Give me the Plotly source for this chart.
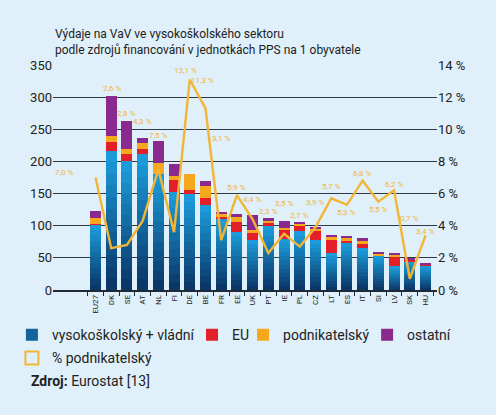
import plotly.graph_objects as go

categories = ["EU27", "DK", "SE", "AT", "NL", "FI", "DE", "BE", "FR", "EE", "UK",
              "PT", "IE", "PL", "CZ", "LT", "ES", "IT", "SI", "LV", "SK", "HU"]
univ_gov = [102, 217, 200, 211, 181, 153, 150, 133, 111, 91, 78,
            100, 79, 92, 78, 57, 73.5, 66, 53, 37, 44, 37.5]
eu = [1, 14, 11.5, 8, 0, 18, 6, 10, 3, 15, 10,
      5, 14, 8, 14, 21, 2.7, 5, 0.5, 14, 3, 1.5]
business = [8.5, 8, 7.5, 10, 17, 7, 24, 19, 4, 7, 5,
            3, 4, 2.8, 3.8, 5, 4.4, 5.5, 3.2, 3.5, 0.3, 1.4]
other = [12, 63, 44, 8, 34, 18, 0, 8, 4, 5, 23,
         4.5, 10, 2, 1.5, 2.5, 3.5, 4, 1.9, 3.5, 2, 1.1]
pct_business = [7.0, 2.6, 2.8, 4.3, 7.5, 3.6, 13.1, 11.3, 3.1, 5.9, 4.4,
                2.3, 3.5, 2.7, 3.9, 5.7, 5.3, 6.8, 5.5, 6.2, 0.7, 3.4]

# label styling (pixel offsets) and hidden labels
label_xshift = [-31, 1, 0, 0, 0, 0, -4, -3, 0, 0, 0,
                0, 0, 0, 0, 0, 0, 0, 0, 0, 0, 0]
label_yshift = [5, 7, 7, 16, 5, 0, 9, 28, 73, 8, 16,
                6, 18, 7, 25, 12, -8, 7, -8, 6, 40, 4]
hidden_labels = {"FI"}

BG = "#dff0fa"
DARK = "#1f2a36"
RED = "#e3202a"
ORANGE = "#f5a81c"
PURPLE = "#8a2a8e"
LINE_OR = "#f2b535"
FONT = "Roboto"
TXT = "#222222"

N_BANDS = 12
c0 = (10, 55, 104)    # bottom
c1 = (27, 155, 217)   # top


def band_color(k):
    t = k / (N_BANDS - 1)
    r, g, b = (round(c0[i] + (c1[i] - c0[i]) * t) for i in range(3))
    return f"rgb({r},{g},{b})"


fig = go.Figure()
for k in range(N_BANDS):
    fig.add_trace(go.Bar(
        x=categories, y=[v / N_BANDS for v in univ_gov],
        marker=dict(color=band_color(k), line=dict(width=0)),
        name="vysokoškolský + vládní",
        showlegend=(k == N_BANDS // 2 - 1), legend="legend",
        hoverinfo="skip"))

for name, vals, col, lg in [("EU", eu, RED, "legend3"),
                            ("podnikatelský", business, ORANGE, "legend4"),
                            ("ostatní", other, PURPLE, "legend5")]:
    fig.add_trace(go.Bar(x=categories, y=vals, name=name, legend=lg,
                         marker=dict(color=col, line=dict(width=0))))

fig.add_trace(go.Scatter(x=categories, y=pct_business, yaxis="y2", mode="lines",
                         line=dict(color=LINE_OR, width=2.4), showlegend=False))
fig.add_trace(go.Scatter(x=[None], y=[None], yaxis="y2", mode="markers",
                         name="% podnikatelský", legend="legend2",
                         marker=dict(symbol="square-open", size=13, color=LINE_OR,
                                     line=dict(width=2, color=LINE_OR))))

annotations = []
for i, c in enumerate(categories):
    if c in hidden_labels:
        continue
    total = univ_gov[i] + eu[i] + business[i] + other[i]
    anchor = max(pct_business[i], total * 14 / 350)
    annotations.append(dict(
        x=c, y=anchor, xref="x", yref="y2", showarrow=False,
        text=f"{pct_business[i]:.1f}".replace(".", ",") + " %",
        font=dict(family=FONT, size=8, color=LINE_OR),
        xshift=label_xshift[i], yshift=label_yshift[i]))

annotations.append(dict(
    x=0, y=1.18, xref="paper", yref="paper", xanchor="left", yanchor="top",
    align="left", showarrow=False,
    text="Výdaje na VaV ve vysokoškolského sektoru<br>podle zdrojů financování v jednotkách PPS na 1 obyvatele",
    font=dict(family=FONT, size=12, color=TXT)))
annotations.append(dict(
    x=-0.062, y=-0.404, xref="paper", yref="paper", xanchor="left", yanchor="middle",
    showarrow=False, text="<b>Zdroj:</b> Eurostat [13]",
    font=dict(family=FONT, size=14, color=TXT)))


def leg(x, y):
    return dict(orientation="h", x=x, y=y, xanchor="left", yanchor="top",
                bgcolor="rgba(0,0,0,0)", font=dict(family=FONT, size=14, color=TXT),
                itemclick=False)


fig.update_layout(
    width=496, height=415,
    margin=dict(l=53, r=59, t=65, b=125, autoexpand=False),
    paper_bgcolor=BG, plot_bgcolor=BG,
    barmode="stack", bargap=0.3,
    font=dict(family=FONT, color=TXT),
    annotations=annotations,
    xaxis=dict(type="category", showline=True, linecolor=DARK, linewidth=1.5,
               ticks="outside", tickson="boundaries", ticklen=4, tickcolor=DARK,
               tickwidth=1, tickangle=-90, tickfont=dict(size=8, color=TXT),
               showgrid=False),
    yaxis=dict(range=[0, 350], dtick=50, showgrid=True, gridcolor="#2f3a46",
               gridwidth=1.2, zeroline=False, showline=False, ticks="",
               tickfont=dict(size=13, color=TXT)),
    yaxis2=dict(range=[0, 14], dtick=2, overlaying="y", side="right",
                showgrid=False, zeroline=False, ticksuffix=" %",
                tickfont=dict(size=13, color=TXT)),
    legend=leg(-0.107, -0.13),
    legend3=leg(0.362, -0.13),
    legend4=leg(0.495, -0.13),
    legend5=leg(0.818, -0.13),
    legend2=leg(-0.107, -0.233),
)

fig.write_html("out.html", config={"displayModeBar": False},
               post_script="document.body.style.margin='0';document.body.style.background='#dff0fa';")
